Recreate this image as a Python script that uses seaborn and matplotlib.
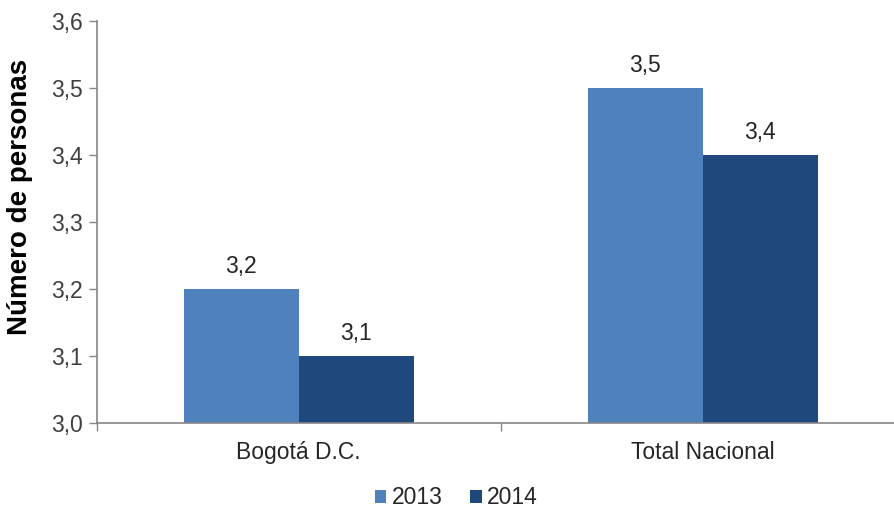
import pandas as pd
import matplotlib.pyplot as plt
import seaborn as sns

# data
categories = ['Bogotá D.C.', 'Total Nacional']
years = ['2013', '2014']
values_2013 = [3.2, 3.5]
values_2014 = [3.1, 3.4]
y_ticks = [3.0, 3.1, 3.2, 3.3, 3.4, 3.5, 3.6]

df = pd.DataFrame({
    'Zona': categories * 2,
    'Año': [years[0]] * 2 + [years[1]] * 2,
    'Valor': values_2013 + values_2014,
})

sns.set_style('white')
plt.rcParams['font.family'] = ['Liberation Sans', 'DejaVu Sans']

palette = {'2013': '#4F81BD', '2014': '#1F497D'}
axis_grey = '#868686'
fs = 16.5

fig = plt.figure(figsize=(8.95, 5.12), dpi=100)
ax = fig.add_axes([0.108, 0.174, 0.903, 0.785])

sns.barplot(data=df, x='Zona', y='Valor', hue='Año', palette=palette,
            width=0.57, gap=0, saturation=1, linewidth=0, ax=ax, legend=True)

# bars start at the axis floor (3,0) like the original
for bar in ax.patches:
    h = bar.get_height()
    if h > 3.0:
        bar.set_y(3.0)
        bar.set_height(h - 3.0)
        ax.annotate(f'{h:.1f}'.replace('.', ','),
                    (bar.get_x() + bar.get_width() / 2, h),
                    xytext=(0, 8), textcoords='offset points',
                    ha='center', va='bottom', fontsize=fs, color='#262626')

ax.set_ylim(3.0, 3.6)
ax.set_xlim(-0.5, 1.5)
ax.set_yticks(y_ticks)
ax.set_yticklabels([f'{t:.1f}'.replace('.', ',') for t in y_ticks])
ax.tick_params(axis='y', labelsize=fs, labelcolor='#404040', length=6,
               width=1, color=axis_grey, left=True, pad=4)
ax.tick_params(axis='x', labelsize=fs, labelcolor='#262626', length=0, pad=13)

# category boundary tick marks on the x axis
ax.set_xticks([-0.5, 0.5, 1.5], minor=True)
ax.tick_params(axis='x', which='minor', length=6, width=1, color=axis_grey,
               bottom=True)

ax.set_xlabel('')
ax.set_ylabel('Número de personas', fontsize=20, fontweight='bold',
              color='black')
ax.yaxis.set_label_coords(-0.079, 0.562)

for side in ['top', 'right']:
    ax.spines[side].set_visible(False)
for side in ['left', 'bottom']:
    ax.spines[side].set_color(axis_grey)
    ax.spines[side].set_linewidth(1.2)

leg = ax.legend(loc='upper center', bbox_to_anchor=(0.445, -0.146), ncol=2,
                frameon=False, fontsize=fs, handlelength=0.5, handleheight=0.5,
                handletextpad=0.25, columnspacing=1.2, borderaxespad=0,
                borderpad=0.2)
for t in leg.get_texts():
    t.set_color('#262626')

fig.savefig('out.png', dpi=100)
